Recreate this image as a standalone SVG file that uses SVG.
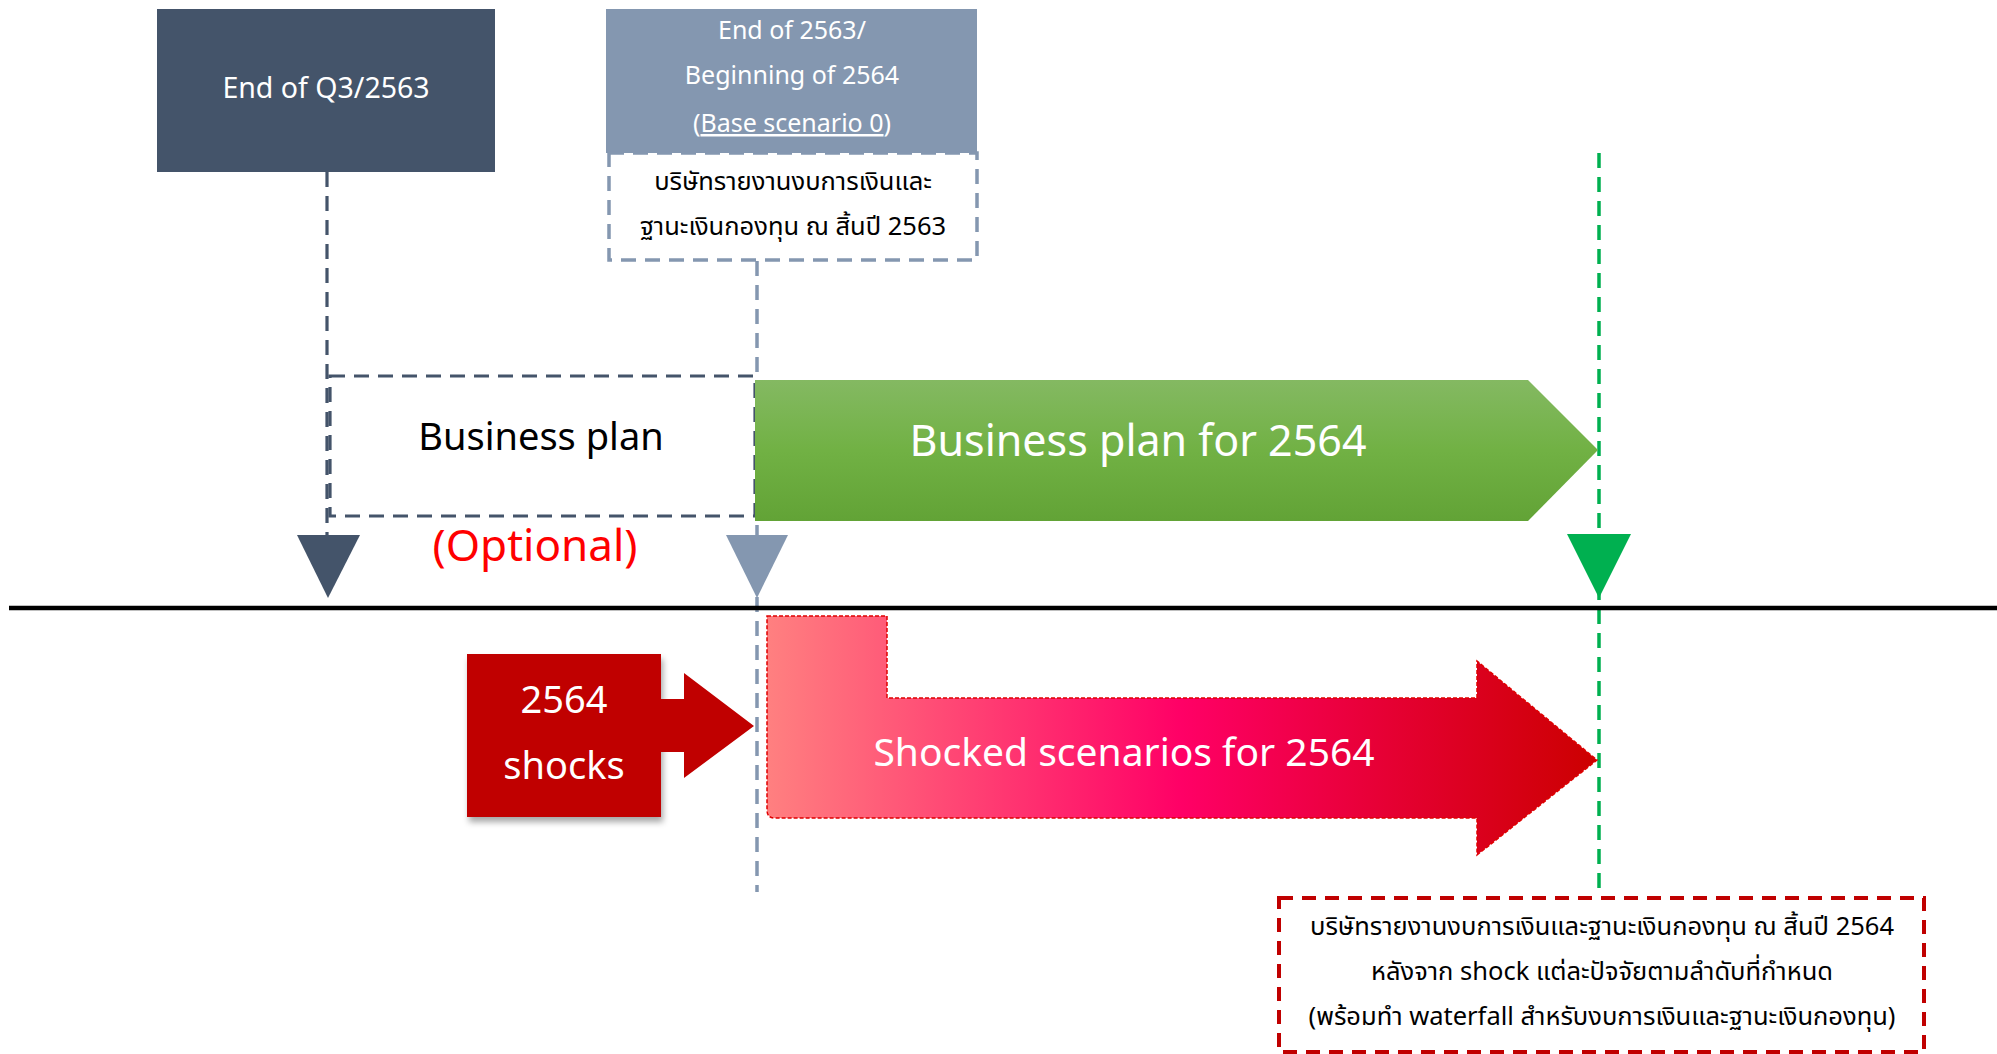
<svg xmlns="http://www.w3.org/2000/svg" width="1997" height="1054" viewBox="0 0 1997 1054">
<style>
text { font-family: "Noto Sans", "Noto Sans Thai", "DejaVu Sans", sans-serif; text-anchor: middle; }
.w { fill: #FFFFFF; }
.k { fill: #000000; }
.th { font-size: 25.5px; fill: #000000; }
.dash-dark { fill: none; stroke: #44546A; stroke-width: 3.2; stroke-dasharray: 15 9; }
.dash-light { fill: none; stroke: #8497B0; stroke-width: 3.5; stroke-dasharray: 15 9; }
.dash-green { fill: none; stroke: #00B050; stroke-width: 3.5; stroke-dasharray: 15 9; }
</style>
<defs>
<linearGradient id="gGreen" x1="0" y1="0" x2="0" y2="1">
<stop offset="0" stop-color="#84B962"/>
<stop offset="0.5" stop-color="#71B144"/>
<stop offset="1" stop-color="#62A336"/>
</linearGradient>
<linearGradient id="gRed" gradientUnits="userSpaceOnUse" x1="767" y1="0" x2="1597" y2="0">
<stop offset="0" stop-color="#FF8080"/>
<stop offset="0.5" stop-color="#FF0066"/>
<stop offset="1" stop-color="#CC0000"/>
</linearGradient>
<filter id="sh" x="-20%" y="-20%" width="150%" height="150%">
<feDropShadow dx="2" dy="5" stdDeviation="3" flood-color="#000000" flood-opacity="0.35"/>
</filter>
</defs>

<g id="connectors">
<line class="dash-dark" x1="327" y1="172" x2="327" y2="540"/>
<line class="dash-light" x1="757" y1="261" x2="757" y2="892"/>
<line class="dash-green" x1="1599" y1="153" x2="1599" y2="892"/>
<line x1="9" y1="608" x2="1997" y2="608" stroke="#000000" stroke-width="4.5"/>
<polygon points="297,535 360,535 328,598" fill="#44546A"/>
<polygon points="726,535 788,535 757,598" fill="#8497B0"/>
<polygon points="1567,534 1631,534 1599,598" fill="#00B050"/>
</g>

<g id="node-q3">
<rect x="157" y="9" width="338" height="163" fill="#44546A"/>
<text class="w" x="326" y="98" font-size="28.5">End of Q3/2563</text>
</g>

<g id="node-base">
<rect x="606" y="9" width="371" height="144" fill="#8497B0"/>
<text class="w" x="792" y="39" font-size="25">End of 2563/</text>
<text class="w" x="792" y="84" font-size="25">Beginning of 2564</text>
<text class="w" x="792" y="132" font-size="25">(<tspan text-decoration="underline">Base scenario 0</tspan>)</text>
</g>

<g id="node-base-note">
<rect class="dash-light" x="609" y="153" width="368" height="107"/>
<text class="th" x="793" y="190">บริษัทรายงานงบการเงินและ</text>
<text class="th" x="793" y="235">ฐานะเงินกองทุน ณ สิ้นปี 2563</text>
</g>

<g id="node-bizplan">
<rect class="dash-dark" x="330" y="376" width="425" height="140"/>
<text class="k" x="541" y="450" font-size="38">Business plan</text>
<text x="535" y="561" font-size="44" fill="#FF0000">(Optional)</text>
</g>

<g id="node-bizplan-2564">
<polygon points="755,380 1528,380 1598,450 1528,521 755,521" fill="url(#gGreen)"/>
<text class="w" x="1138" y="456" font-size="43">Business plan for 2564</text>
</g>

<g id="node-shocks">
<rect x="467" y="654" width="194" height="163" fill="#C00000" filter="url(#sh)"/>
<text class="w" x="564" y="713" font-size="38">2564</text>
<text class="w" x="564" y="779" font-size="38">shocks</text>
<polygon points="661,699 684,699 684,673 754,726 684,778 684,752 661,752" fill="#C00000"/>
</g>

<g id="node-shocked">
<path d="M767,616 L887,616 L887,698 L1477,698 L1477,661 L1597,760 L1477,855 L1477,818 L775,818 Q767,818 767,810 Z" fill="url(#gRed)" stroke="#E00000" stroke-width="1.5" stroke-dasharray="4 2"/>
<text class="w" x="1124" y="766" font-size="39">Shocked scenarios for 2564</text>
</g>

<g id="node-result">
<rect x="1279" y="898" width="645" height="154" fill="none" stroke="#C00000" stroke-width="4" stroke-dasharray="14 9"/>
<text class="th" x="1602" y="935">บริษัทรายงานงบการเงินและฐานะเงินกองทุน ณ สิ้นปี 2564</text>
<text class="th" x="1602" y="980">หลังจาก shock แต่ละปัจจัยตามลำดับที่กำหนด</text>
<text class="th" x="1602" y="1025">(พร้อมทำ waterfall สำหรับงบการเงินและฐานะเงินกองทุน)</text>
</g>
</svg>
